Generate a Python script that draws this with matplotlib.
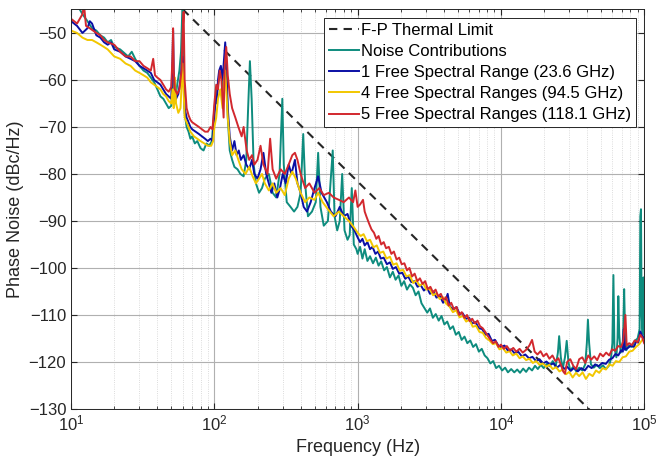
import numpy as np
import matplotlib
matplotlib.use("Agg")
from matplotlib import pyplot as plt
from matplotlib.ticker import LogLocator, NullFormatter, MultipleLocator

# F-P thermal limit (straight line on log axis, two end points)
fp_thermal = [(10, -21.6), (100000, -141.6)]

# Noise contributions (teal)
noise_contrib = [
    (10, -45), (11, -44), (12, -46), (13, -47.5), (14, -49), (15, -49.5), (16, -50.5), (17, -51),
    (18, -52), (19, -51.5), (20, -53), (22, -53.5), (24, -54.5), (25, -55), (26.5, -54), (28, -55.5),
    (30, -57), (32, -58), (34, -58.5), (36, -59.5), (38, -60.5), (40, -62), (42, -63.5), (44, -64),
    (46, -65), (48, -66), (50, -65.5), (51, -62), (52, -60), (53, -65), (55, -61), (57, -58),
    (58.5, -54), (60, -43), (61, -58), (62, -67), (64, -70), (66, -71), (68, -72.5), (70, -72),
    (73, -73.5), (76, -73), (80, -74.5), (84, -75), (88, -73.5), (92, -74), (96, -73), (100, -66),
    (103, -63), (106, -61), (109, -58.5), (112, -59), (115, -62), (118, -56), (121, -58), (124, -68),
    (128, -75), (133, -77), (138, -78.5), (145, -79), (152, -80), (160, -80.5), (167, -77), (172, -66),
    (177, -56), (182, -64), (188, -78), (195, -82), (205, -84), (215, -83), (225, -81), (240, -80),
    (255, -84), (270, -85), (285, -80), (298, -64), (305, -78), (320, -86), (340, -87), (360, -88),
    (380, -87), (400, -84), (417, -71.5), (430, -82), (450, -89), (480, -88), (510, -86), (530, -75.5),
    (550, -87), (580, -91), (620, -90), (670, -75), (690, -89), (720, -92), (750, -90), (780, -80),
    (810, -92), (850, -94), (880, -93), (910, -83), (940, -95), (980, -96),
    (1000, -97), (1040, -95.5), (1080, -98), (1120, -96), (1170, -98.5), (1220, -97.5), (1280, -99),
    (1340, -97.8), (1400, -99.5), (1460, -98.6), (1530, -100.5), (1600, -99.8), (1680, -102),
    (1760, -100.8), (1840, -102.5), (1930, -101.6), (2020, -103.8), (2110, -102.8), (2210, -104.6),
    (2320, -103.5), (2430, -104.2), (2540, -105.8), (2660, -105), (2790, -107.5), (2920, -108.5),
    (3060, -109.5), (3200, -108.6), (3350, -110.6), (3510, -109.8), (3680, -111.2), (3850, -110.2),
    (4030, -112), (4220, -111.4), (4420, -113), (4630, -112.4), (4850, -114.2), (5080, -113.6),
    (5320, -115.3), (5570, -114.6), (5830, -116), (6110, -115.4), (6400, -116.8), (6700, -116.2),
    (7020, -117.8), (7350, -117.2), (7700, -118.6), (8060, -119.2), (8440, -120.3), (8840, -119.8),
    (9260, -121.3), (9700, -120.8), (10200, -121.8), (10700, -121.2), (11200, -122.2), (11800, -121.5),
    (12400, -122.2), (13000, -121.6), (13600, -122.3), (14300, -121.4), (15000, -122.1), (15700, -121.2),
    (16500, -121.8), (17300, -120.8), (18100, -121.5), (19000, -120.6), (19900, -121.3), (20900, -120.4),
    (21900, -120.9), (23000, -119.8), (24100, -121), (25000, -118), (25500, -114.5), (26200, -119),
    (27000, -121.5), (28000, -119), (28800, -115.5), (29600, -120), (30500, -121.8), (32000, -121),
    (33600, -122), (35200, -121.2), (37000, -121.8), (38800, -120.5), (39800, -116), (40500, -111),
    (41300, -116), (42500, -120.5), (44500, -121.2), (46700, -120.6), (49000, -121.3), (51500, -120.7),
    (54000, -121.5), (56700, -120.8), (58500, -119.5), (60000, -116), (61000, -101.5), (62000, -117),
    (64000, -119), (65200, -115), (66000, -106), (67000, -114), (68500, -118), (70500, -117.5),
    (71500, -113), (72500, -104.5), (73500, -113), (75000, -117.5), (78000, -116.5), (82000, -116.8),
    (86000, -115.5), (90000, -115), (93000, -113), (94000, -89), (95000, -87.5), (96000, -110),
    (97500, -114), (99000, -102), (100000, -115),
]

# 1 FSR (blue)
fsr1 = [
    (10, -47.5), (11, -48.5), (12, -50), (13, -49), (13.5, -47.5), (14, -48), (15, -50.5), (16, -51),
    (17, -52), (18, -52.5), (19, -52), (20, -53.5), (22, -54), (24, -55), (26, -55.5), (28, -56),
    (30, -57), (32, -57.5), (34, -58), (36, -58.5), (38, -60), (40, -60.5), (42, -61), (44, -62),
    (46, -63), (48, -63.5), (50, -64), (51, -56), (51.5, -49.5), (52, -58), (53, -63), (54, -64),
    (56, -63), (58, -60), (60, -55), (61, -58), (62, -66), (64, -68), (66, -69), (68, -70),
    (70, -70.5), (74, -71), (78, -71.5), (82, -72), (86, -72.5), (90, -73), (94, -72.5), (97, -73),
    (100, -68), (102, -63.5), (104, -65), (106, -60), (108, -58), (111, -57), (114, -60), (117, -55),
    (119, -52), (121, -56), (124, -66), (128, -72), (133, -75), (138, -73), (143, -76), (148, -75),
    (153, -77), (160, -76), (167, -78), (175, -79), (183, -77), (190, -80), (200, -81), (210, -79),
    (220, -75.5), (230, -80), (240, -82), (250, -84), (262, -82), (275, -85), (287, -83), (300, -80),
    (315, -82), (330, -78), (345, -80), (365, -77), (380, -82), (400, -84), (420, -87), (443, -88),
    (470, -86), (500, -83), (530, -80.5), (560, -84), (610, -86), (650, -88), (700, -89), (750, -87),
    (800, -89), (850, -88.5), (900, -91), (950, -92),
    (1000, -93.5), (1040, -94.5), (1080, -93.8), (1120, -95.2), (1170, -94.5), (1220, -96),
    (1270, -95.5), (1330, -97), (1390, -96.5), (1450, -98), (1520, -97.8), (1600, -99.2), (1680, -98.8),
    (1760, -100.2), (1850, -99.8), (1950, -101.2), (2050, -101), (2150, -102.3), (2250, -101.8),
    (2370, -103), (2500, -102.8), (2620, -104), (2750, -103.6), (2900, -104.8), (3050, -104.2),
    (3200, -105.5), (3380, -105), (3550, -106.3), (3750, -106), (3950, -107.4), (4150, -106.5),
    (4250, -105.5), (4400, -108.2), (4650, -108.8), (4900, -108.3), (5150, -109.8), (5400, -109.6),
    (5700, -110.8), (6000, -110.6), (6300, -111.8), (6650, -111.5), (7000, -112.8), (7400, -113),
    (7800, -114.2), (8200, -114), (8650, -115.5), (9100, -115.3), (9600, -116.5), (10000, -116.8),
    (10600, -116.5), (11200, -117.6), (11800, -117.3), (12500, -118.2), (13200, -117.8), (14000, -118.8),
    (14800, -118.4), (15700, -119.2), (16600, -118.9), (17600, -119.8), (18600, -119.4), (19700, -120.3),
    (20800, -119.9), (22000, -120.6), (23300, -120.3), (24600, -121.2), (26000, -120.6), (27500, -121.5),
    (29000, -121), (30700, -121.9), (32500, -121.2), (34400, -122), (36400, -121.3), (38500, -121.8),
    (40700, -120.8), (43000, -121.3), (45500, -120.5), (48000, -120.9), (51000, -120.2), (54000, -120.4),
    (57000, -119.5), (60000, -119.2), (63000, -118.3), (66000, -118.6), (69000, -117.5), (71000, -117.8),
    (72000, -113), (73500, -117.4), (77000, -117), (81000, -116.5), (85000, -116.8), (88000, -115.6),
    (91000, -115.9), (94000, -113.5), (97000, -114.5), (100000, -115),
]

# 4 FSR (yellow)
fsr4 = [
    (10, -49.5), (11, -50), (12, -51), (13, -51.5), (14, -51.5), (15, -52), (16, -52.5), (17, -53),
    (18, -53.5), (20, -55), (22, -55.5), (24, -56.5), (26, -57), (28, -58), (30, -58.5), (32, -59),
    (34, -59.5), (36, -60.5), (38, -61), (40, -61.5), (42, -62), (44, -63), (46, -63.5), (48, -64.5),
    (50, -65), (51, -62), (52, -66), (53, -59.5), (54, -65), (56, -67), (58, -66), (60, -56.5),
    (61, -62), (62, -68), (65, -69.5), (68, -71), (72, -72), (76, -72.5), (80, -73), (85, -73.5),
    (90, -74), (95, -74), (98, -73), (100, -70), (103, -68), (106, -64), (110, -62), (114, -66),
    (117, -60), (119, -58), (121, -62), (124, -68), (128, -73), (133, -76), (140, -75), (147, -77),
    (155, -79), (165, -80), (175, -78.5), (185, -80.5), (195, -82), (205, -81), (215, -80), (225, -82),
    (240, -83.5), (255, -82), (270, -84), (290, -83), (310, -84.5), (330, -81), (350, -79.5), (370, -81),
    (400, -84), (430, -86), (460, -85), (500, -85.5), (530, -84), (570, -86), (620, -87.5), (680, -89),
    (740, -88), (800, -89), (870, -90), (950, -91.5),
    (1000, -92.5), (1050, -93.2), (1100, -92.8), (1160, -94.3), (1220, -94), (1290, -95.6),
    (1360, -95.2), (1430, -96.8), (1510, -96.5), (1590, -98), (1680, -97.6), (1770, -99.3), (1870, -99),
    (1970, -100.6), (2080, -100.4), (2190, -101.8), (2310, -101.5), (2440, -103.2), (2570, -102.6),
    (2710, -103.8), (2860, -103.2), (3020, -104.6), (3180, -104.4), (3360, -105.8), (3540, -105.4),
    (3740, -106.6), (3940, -106.2), (4150, -107.6), (4380, -108.2), (4620, -109.4), (4870, -109),
    (5140, -110.5), (5420, -110.2), (5720, -111.4), (6030, -111), (6360, -112.5), (6710, -112.3),
    (7080, -113.6), (7470, -113.8), (7880, -114.9), (8310, -115.4), (8770, -116.2), (9250, -116),
    (9760, -117.3), (10300, -117), (10900, -118), (11500, -117.7), (12100, -118.6), (12800, -118.2),
    (13500, -119.2), (14200, -118.8), (15000, -119.6), (15800, -119.3), (16700, -120.2), (17600, -119.8),
    (18600, -120.6), (19600, -120.3), (20700, -121), (21800, -120.6), (23000, -121.5), (24300, -121.1),
    (25600, -122), (27000, -121.6), (28500, -122.6), (30000, -122.1), (31700, -123.3), (33400, -122.3),
    (35200, -123), (37200, -122.2), (39200, -123.6), (41400, -122.5), (43700, -123), (46100, -121.8),
    (48600, -122.3), (51300, -121.3), (54100, -121.6), (57100, -120.5), (60200, -120.8), (63500, -119.8),
    (67000, -120), (70700, -119), (74600, -118.8), (78700, -117.8), (83000, -117.6), (87600, -116.8),
    (92400, -116.2), (97500, -115.2), (100000, -115.5),
]

# 5 FSR (red)
fsr5 = [
    (10, -47), (11, -48), (12, -46), (12.3, -44), (12.7, -48.5), (13.5, -49), (15, -50), (16, -50.5),
    (17, -51.5), (18, -52), (20, -52.5), (22, -54), (24, -55), (26, -55), (28, -56), (30, -56),
    (32, -57), (34, -57.5), (36, -58), (37.4, -55.5), (38.5, -59), (40, -59.5), (42, -60), (44, -61),
    (46, -62), (48, -62.5), (50, -61.5), (51, -55), (51.5, -49), (52, -58), (53, -62), (55, -63),
    (57, -62), (59, -58), (60, -50), (61, -45.5), (62, -60), (64, -66), (66, -67.5), (68, -68.5),
    (70, -69), (74, -69.5), (78, -70), (82, -70.5), (86, -71), (90, -71), (94, -70), (97, -70.5),
    (100, -65), (103, -61), (106, -62), (109, -58), (112, -60), (116, -68), (118, -57), (121, -53),
    (124, -59), (128, -63), (133, -66), (140, -68), (147, -70), (155, -72), (160, -70), (168, -75),
    (175, -77), (183, -76), (190, -78), (200, -77), (210, -74), (220, -78), (235, -80), (245, -72.5),
    (255, -79), (270, -81), (290, -79), (310, -80), (330, -78), (350, -76), (365, -75.5), (380, -77),
    (400, -80), (430, -83), (460, -82), (500, -84), (540, -83), (580, -84.5), (630, -84), (680, -85),
    (740, -85.5), (800, -86), (870, -85), (930, -86), (964, -83.5),
    (1000, -87), (1040, -86.5), (1090, -85.5), (1120, -88), (1150, -89), (1200, -90.5), (1250, -91.8),
    (1300, -92.5), (1350, -93.8), (1400, -93.2), (1460, -95), (1520, -94.5), (1580, -95.8), (1650, -95.5),
    (1720, -97), (1790, -96.5), (1870, -98.2), (1950, -97.8), (2030, -99.2), (2120, -99), (2210, -100.5),
    (2300, -100), (2400, -101.8), (2500, -101.2), (2610, -102.8), (2720, -102.2), (2840, -103.4),
    (2960, -102.8), (3090, -104.5), (3220, -104), (3360, -105.2), (3500, -104.6), (3650, -106),
    (3810, -105.5), (3970, -106.8), (4140, -106.2), (4320, -108), (4500, -107.4), (4700, -108.8),
    (4900, -108.3), (5110, -110), (5330, -109.4), (5560, -110.6), (5800, -110), (6050, -111.3),
    (6310, -110.8), (6580, -111.8), (6860, -111.2), (7150, -112.4), (7460, -112.8), (7780, -113.6),
    (8120, -114.5), (8470, -115.3), (8830, -116), (9210, -115.6), (9610, -116.8), (10000, -116.3),
    (10500, -117.2), (11000, -116.6), (11600, -117.6), (12200, -117), (12800, -117.8), (13500, -117.2),
    (14200, -118), (15000, -117.4), (15800, -116.5), (16500, -115.3), (17200, -117.8), (18000, -118.4),
    (18900, -117.7), (19800, -118.8), (20800, -118.2), (21800, -119.3), (22900, -118.6), (24000, -119.8),
    (25200, -119.2), (26400, -120.8), (27200, -122), (28000, -122.5), (29000, -120), (30500, -119.4),
    (32000, -120.8), (33500, -121.5), (35200, -119.4), (37000, -119), (38800, -120.2), (40700, -118.6),
    (42700, -119.5), (44800, -118.8), (47000, -119.6), (49300, -118.2), (51700, -118.8), (54300, -118),
    (57000, -118.6), (59800, -117.3), (62800, -117.6), (65900, -116.6), (69100, -116.8), (71500, -115.5),
    (74000, -110), (75500, -116.5), (78500, -116), (82000, -116.4), (86000, -115.4), (90000, -115.8),
    (94000, -114.2), (97000, -114.8), (100000, -116),
]

labels = ["F-P Thermal Limit", "Noise Contributions", "1 Free Spectral Range (23.6 GHz)",
          "4 Free Spectral Ranges (94.5 GHz)", "5 Free Spectral Ranges (118.1 GHz)"]

plt.rcParams['font.family'] = ['Liberation Sans', 'DejaVu Sans']
plt.rcParams['mathtext.default'] = 'regular'

fig = plt.figure(figsize=(6.71, 4.63), dpi=100)
ax = fig.add_axes([0.106, 0.1166, 0.854, 0.863])

f, v = np.array(fp_thermal).T
ax.plot(f, v, color='#262626', lw=1.5, linestyle=(0, (4, 3)), label=labels[0])
colors = ['#0E8C7E', '#0A0FA5', '#F2C700', '#D2282E']
for data, c, lab in zip([noise_contrib, fsr1, fsr4, fsr5], colors, labels[1:]):
    f, v = np.array(data).T
    ax.plot(f, v, color=c, lw=1.4, label=lab)

ax.set_xscale('log')
ax.set_xlim(10, 1e5)
ax.set_ylim(-130, -45)
ax.yaxis.set_major_locator(MultipleLocator(10))
ax.xaxis.set_major_locator(LogLocator(base=10, numticks=10))
ax.xaxis.set_minor_locator(LogLocator(base=10, subs=np.arange(2, 10), numticks=20))
ax.xaxis.set_minor_formatter(NullFormatter())

ax.grid(True, which='major', color='#b0b0b0', lw=0.8)
ax.grid(True, which='minor', axis='x', color='#d0d0d0', lw=0.6, linestyle=':')
ax.set_axisbelow(True)
ax.tick_params(which='both', direction='in', top=True, right=True, labelsize=12, colors='#262626')
ax.tick_params(which='major', length=4)
ax.tick_params(which='minor', length=2)
for s in ax.spines.values():
    s.set_color('#262626')
    s.set_linewidth(0.7)

ax.set_xlabel('Frequency (Hz)', fontsize=13, color='#262626')
ax.set_ylabel('Phase Noise (dBc/Hz)', fontsize=13, color='#262626', labelpad=3)

leg = ax.legend(loc='upper right', fontsize=12, handlelength=1.8, handletextpad=0.1,
                labelspacing=0.37, borderaxespad=0.5, borderpad=0.3, fancybox=False,
                framealpha=1, edgecolor='#262626')
leg.get_frame().set_linewidth(0.7)

fig.savefig('out.png', dpi=100)
